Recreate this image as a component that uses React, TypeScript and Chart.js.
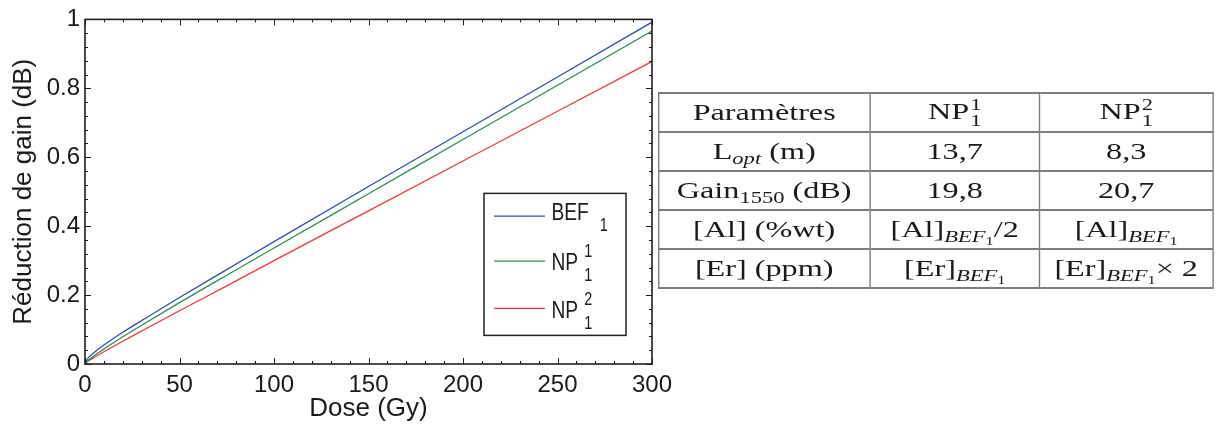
import React, { useEffect, useRef } from "react";
import { Chart, registerables } from "chart.js";

Chart.register(...registerables);

// ---- data ----
const doses = [0, 1, 2, 5, 10, 20, 30, 50, 75, 100, 150, 200, 250, 300];
const bef1 = [0, 0.013, 0.02, 0.034, 0.055, 0.092, 0.126, 0.193, 0.274, 0.355, 0.515, 0.674, 0.833, 0.992];
const np11 = [0, 0.007, 0.0125, 0.0245, 0.0435, 0.079, 0.1125, 0.178, 0.2575, 0.3365, 0.494, 0.6515, 0.809, 0.9665];
const np21 = [0, 0.0055, 0.0095, 0.0195, 0.0355, 0.066, 0.0957, 0.1545, 0.2268, 0.3, 0.4445, 0.589, 0.7335, 0.878];
const seriesColors = ["#2f4fae", "#2a8f50", "#f03838"];
const legendBase = ["BEF", "NP", "NP"];
const legendSup = ["", "1", "2"];
const legendSub = ["1", "1", "1"];
const xTitle = "Dose (Gy)";
const yTitle = "Réduction de gain (dB)";

const tableParams = ["Paramètres", "L", "Gain", "[Al] (%wt)", "[Er] (ppm)"];
const loptValues = ["13,7", "8,3"];
const gainValues = ["19,8", "20,7"];

const FONT = "'Liberation Sans', Arial, Helvetica, sans-serif";

const framePlugin = {
  id: "frameTicks",
  afterDatasetsDraw(chart: any) {
    const { ctx, chartArea, scales } = chart;
    const { left, right, top, bottom } = chartArea;
    const x = scales.x;
    const y = scales.y;
    ctx.save();
    ctx.strokeStyle = "#1e1e1e";
    ctx.lineWidth = 1;
    ctx.beginPath();
    for (let i = 0; i <= 30; i++) {
      const px = Math.round(x.getPixelForValue(i * 10)) + 0.5;
      const L = i % 5 === 0 ? 6 : 3;
      ctx.moveTo(px, bottom);
      ctx.lineTo(px, bottom - L);
      ctx.moveTo(px, top);
      ctx.lineTo(px, top + L);
    }
    for (let i = 0; i <= 25; i++) {
      const py = Math.round(y.getPixelForValue(i * 0.04)) + 0.5;
      const L = i % 5 === 0 ? 6 : 3;
      ctx.moveTo(left, py);
      ctx.lineTo(left + L, py);
      ctx.moveTo(right, py);
      ctx.lineTo(right - L, py);
    }
    ctx.stroke();
    ctx.lineWidth = 1.6;
    ctx.strokeRect(left, top, right - left, bottom - top);

    // legend
    const bw = 142;
    const bh = 142;
    const bx = right - 26 - bw;
    const by = top + 174;
    ctx.fillStyle = "#ffffff";
    ctx.fillRect(bx, by, bw, bh);
    ctx.lineWidth = 1.5;
    ctx.strokeStyle = "#222";
    ctx.strokeRect(bx, by, bw, bh);
    const lineYs = [22.7, 67.7, 115];
    const baseYs = [26.7, 76.7, 125];
    const scriptGap = [11, 6, 6];
    const sx = 0.8;
    for (let i = 0; i < 3; i++) {
      ctx.strokeStyle = seriesColors[i];
      ctx.lineWidth = 1.3;
      ctx.beginPath();
      ctx.moveTo(bx + 10, by + lineYs[i]);
      ctx.lineTo(bx + 61, by + lineYs[i]);
      ctx.stroke();
      ctx.save();
      ctx.translate(bx + 67.5, by + baseYs[i]);
      ctx.scale(sx, 1);
      ctx.fillStyle = "#1a1a1a";
      ctx.textBaseline = "alphabetic";
      ctx.textAlign = "left";
      ctx.font = `24px ${FONT}`;
      ctx.fillText(legendBase[i], 0, 0);
      const w = ctx.measureText(legendBase[i]).width + scriptGap[i] / sx;
      ctx.font = `18px ${FONT}`;
      if (legendSup[i]) ctx.fillText(legendSup[i], w, -13);
      if (legendSub[i]) ctx.fillText(legendSub[i], w, 11);
      ctx.restore();
    }
    ctx.restore();
  },
};

function ChartCanvas() {
  const ref = useRef<HTMLCanvasElement | null>(null);
  useEffect(() => {
    if (!ref.current) return;
    const names = ["BEF1", "NP11", "NP21"];
    const all = [bef1, np11, np21];
    const chart = new Chart(ref.current, {
      type: "line",
      data: {
        datasets: all.map((vals, i) => ({
          label: names[i],
          data: doses.map((d, j) => ({ x: d, y: vals[j] })),
          borderColor: seriesColors[i],
          borderWidth: 1.3,
          pointRadius: 0,
          fill: false,
          cubicInterpolationMode: "monotone" as const,
        })),
      },
      options: {
        responsive: false,
        animation: false,
        layout: { padding: { left: 0, right: 28, top: 16, bottom: 0 } },
        plugins: { legend: { display: false }, tooltip: { enabled: false } },
        scales: {
          x: {
            type: "linear",
            min: 0,
            max: 300,
            grid: { display: false, drawTicks: false },
            border: { display: false },
            ticks: {
              stepSize: 50,
              padding: 7,
              color: "#1a1a1a",
              font: { family: FONT, size: 24 },
              maxRotation: 0,
            },
            title: {
              display: true,
              text: xTitle,
              color: "#1a1a1a",
              font: { family: FONT, size: 26 },
              padding: { top: 0, bottom: 2 },
            },
            afterFit: (s: any) => {
              s.height = 62;
            },
          },
          y: {
            type: "linear",
            min: 0,
            max: 1,
            grid: { display: false, drawTicks: false },
            border: { display: false },
            ticks: {
              stepSize: 0.2,
              padding: 5,
              color: "#1a1a1a",
              font: { family: FONT, size: 24 },
              callback: (v: any) => String(Math.round(Number(v) * 10) / 10),
            },
            title: {
              display: true,
              text: yTitle,
              color: "#1a1a1a",
              font: { family: FONT, size: 26 },
              padding: { top: 8, bottom: 0 },
            },
            afterFit: (s: any) => {
              s.width = 85;
            },
          },
        },
      },
      plugins: [framePlugin],
    });
    return () => chart.destroy();
  }, []);
  return (
    <canvas
      ref={ref}
      width={680}
      height={426}
      style={{ position: "absolute", left: 0, top: 0, width: 680, height: 426 }}
    />
  );
}

const Sub = ({ children }: { children: any }) => (
  <span style={{ fontSize: "0.7em", verticalAlign: "-0.3em", lineHeight: 0 }}>{children}</span>
);

const BEF1 = () => (
  <Sub>
    <i>BEF</i>
    <span style={{ fontSize: "0.72em", verticalAlign: "-0.25em" }}>1</span>
  </Sub>
);

const Stack = ({ sup, sub }: { sup: string; sub: string }) => (
  <span
    style={{
      display: "inline-block",
      verticalAlign: "-0.42em",
      fontSize: "0.7em",
      lineHeight: 0.95,
      textAlign: "left",
      marginLeft: "0.05em",
    }}
  >
    <span style={{ display: "block" }}>{sup}</span>
    <span style={{ display: "block" }}>{sub}</span>
  </span>
);

const cell: React.CSSProperties = {
  borderTop: "2px solid #7c7c7c",
  borderBottom: "2px solid #7c7c7c",
  borderLeft: "1.4px solid #7c7c7c",
  borderRight: "1.4px solid #7c7c7c",
  textAlign: "center",
  verticalAlign: "middle",
  padding: 0,
  whiteSpace: "nowrap",
};

function ParamTable() {
  const SCALE = 1.4;
  const widths = [211, 170, 173].map((w) => w / SCALE);
  const rowH = 39.1;
  return (
    <div
      style={{
        position: "absolute",
        left: 658,
        top: 92,
        transform: `scaleX(${SCALE})`,
        transformOrigin: "0 0",
      }}
    >
      <table
        style={{
          borderCollapse: "collapse",
          fontFamily: "'Liberation Serif', 'Times New Roman', serif",
          fontSize: 23,
          color: "#1a1a1a",
          tableLayout: "fixed",
          width: widths.reduce((a, b) => a + b, 0),
        }}
      >
        <colgroup>
          {widths.map((w, i) => (
            <col key={i} style={{ width: w }} />
          ))}
        </colgroup>
        <tbody>
          <tr style={{ height: rowH }}>
            <td style={cell}>{tableParams[0]}</td>
            <td style={cell}>
              NP<Stack sup="1" sub="1" />
            </td>
            <td style={cell}>
              NP<Stack sup="2" sub="1" />
            </td>
          </tr>
          <tr style={{ height: rowH }}>
            <td style={cell}>
              {tableParams[1]}
              <Sub>
                <i>opt</i>
              </Sub>
              {" "}(m)
            </td>
            <td style={cell}>{loptValues[0]}</td>
            <td style={cell}>{loptValues[1]}</td>
          </tr>
          <tr style={{ height: rowH }}>
            <td style={cell}>
              {tableParams[2]}
              <Sub>1550</Sub> (dB)
            </td>
            <td style={cell}>{gainValues[0]}</td>
            <td style={cell}>{gainValues[1]}</td>
          </tr>
          <tr style={{ height: rowH }}>
            <td style={cell}>{tableParams[3]}</td>
            <td style={cell}>
              [Al]
              <BEF1 />
              /2
            </td>
            <td style={cell}>
              [Al]
              <BEF1 />
            </td>
          </tr>
          <tr style={{ height: rowH }}>
            <td style={cell}>{tableParams[4]}</td>
            <td style={cell}>
              [Er]
              <BEF1 />
            </td>
            <td style={cell}>
              [Er]
              <BEF1 />× 2
            </td>
          </tr>
        </tbody>
      </table>
    </div>
  );
}

export default function App() {
  return (
    <div
      style={{
        position: "absolute",
        left: 0,
        top: 0,
        width: 1226,
        height: 426,
        background: "#ffffff",
        overflow: "hidden",
      }}
    >
      <ChartCanvas />
      <ParamTable />
    </div>
  );
}
